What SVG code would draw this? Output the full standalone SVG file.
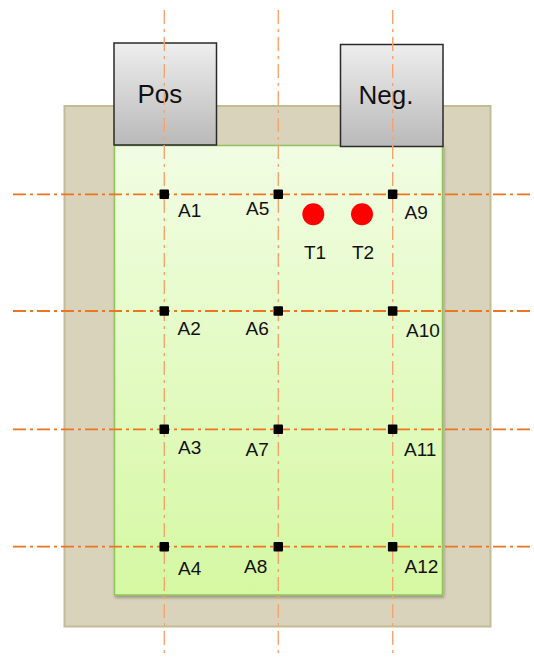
<svg xmlns="http://www.w3.org/2000/svg" width="534" height="657" viewBox="0 0 534 657">
<defs>
<linearGradient id="gGreen" x1="0" y1="0" x2="0" y2="1">
<stop offset="0" stop-color="#f1fde3"/>
<stop offset="1" stop-color="#d5f8a2"/>
</linearGradient>
<linearGradient id="gGray" x1="0" y1="0" x2="0" y2="1">
<stop offset="0" stop-color="#eeeeee"/>
<stop offset="1" stop-color="#b9b9b9"/>
</linearGradient>
<filter id="sh" x="-10%" y="-10%" width="120%" height="120%">
<feDropShadow dx="1" dy="2" stdDeviation="1.5" flood-color="#000" flood-opacity="0.3"/>
</filter>
</defs>
<style>
text{font-family:"Liberation Sans",Arial,sans-serif;fill:#111;}
.lbl{font-size:19px;}
.term{font-size:26px;}
.hl{stroke:#ee7420;stroke-width:1.8;stroke-dasharray:13 4 3 4;fill:none;}
.vl{stroke:#f7a36c;stroke-width:1.4;stroke-dasharray:14 5 3 5;fill:none;}
.pt{fill:#000;}
.tc{fill:#ff0000;}
</style>
<g id="cell">
<rect x="64.5" y="106" width="426" height="520.5" fill="#d9d3bb" stroke="#c3bb95" stroke-width="2"/>
<rect x="114.5" y="145.5" width="328" height="449.5" fill="url(#gGreen)" stroke="#92c25c" stroke-width="1.5" filter="url(#sh)"/>
</g>
<g id="pos">
<rect x="114" y="43" width="102.5" height="102" fill="url(#gGray)" stroke="#2a2a2a" stroke-width="1.5"/>
<text class="term" x="137.5" y="103">Pos</text>
</g>
<g id="neg">
<rect x="340.5" y="44.5" width="102.5" height="102" fill="url(#gGray)" stroke="#2a2a2a" stroke-width="1.5"/>
<text class="term" x="358.5" y="104">Neg.</text>
</g>
<g id="connectors">
<line class="vl" x1="164.3" y1="10" x2="164.3" y2="657"/>
<line class="vl" x1="278.3" y1="10" x2="278.3" y2="657"/>
<line class="vl" x1="392.7" y1="10" x2="392.7" y2="657"/>
<line class="hl" x1="13" y1="194.3" x2="532" y2="194.3"/>
<line class="hl" x1="13" y1="311" x2="532" y2="311"/>
<line class="hl" x1="13" y1="429.3" x2="532" y2="429.3"/>
<line class="hl" x1="13" y1="546.7" x2="532" y2="546.7"/>
</g>
<g id="A1"><rect class="pt" x="159.5" y="189.5" width="9.5" height="9.5" rx="1"/><text class="lbl" x="178" y="217">A1</text></g>
<g id="A2"><rect class="pt" x="159.5" y="306.2" width="9.5" height="9.5" rx="1"/><text class="lbl" x="177.5" y="335">A2</text></g>
<g id="A3"><rect class="pt" x="159.5" y="424.5" width="9.5" height="9.5" rx="1"/><text class="lbl" x="178" y="453.5">A3</text></g>
<g id="A4"><rect class="pt" x="159.5" y="541.9" width="9.5" height="9.5" rx="1"/><text class="lbl" x="178" y="575">A4</text></g>
<g id="A5"><rect class="pt" x="273.5" y="189.5" width="9.5" height="9.5" rx="1"/><text class="lbl" x="246" y="214.5">A5</text></g>
<g id="A6"><rect class="pt" x="273.5" y="306.2" width="9.5" height="9.5" rx="1"/><text class="lbl" x="245.5" y="335">A6</text></g>
<g id="A7"><rect class="pt" x="273.5" y="424.5" width="9.5" height="9.5" rx="1"/><text class="lbl" x="245.5" y="455.5">A7</text></g>
<g id="A8"><rect class="pt" x="273.5" y="541.9" width="9.5" height="9.5" rx="1"/><text class="lbl" x="244" y="572.7">A8</text></g>
<g id="A9"><rect class="pt" x="387.9" y="189.5" width="9.5" height="9.5" rx="1"/><text class="lbl" x="404.5" y="219">A9</text></g>
<g id="A10"><rect class="pt" x="387.9" y="306.2" width="9.5" height="9.5" rx="1"/><text class="lbl" x="406" y="336.7">A10</text></g>
<g id="A11"><rect class="pt" x="387.9" y="424.5" width="9.5" height="9.5" rx="1"/><text class="lbl" x="404" y="455.5">A11</text></g>
<g id="A12"><rect class="pt" x="387.9" y="541.9" width="9.5" height="9.5" rx="1"/><text class="lbl" x="404.5" y="573.3">A12</text></g>
<g id="T1"><circle class="tc" cx="313.3" cy="214.3" r="11"/><text class="lbl" x="304" y="258.5">T1</text></g>
<g id="T2"><circle class="tc" cx="362" cy="214.3" r="11"/><text class="lbl" x="352" y="258.5">T2</text></g>
</svg>
